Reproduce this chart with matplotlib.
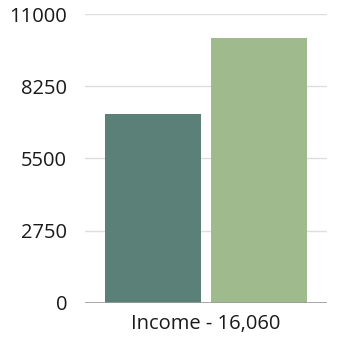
import matplotlib
matplotlib.use("Agg")
import matplotlib.pyplot as plt

plt.rcParams["font.family"] = ["Open Sans", "DejaVu Sans"]

categories = ["Income - 16,060"]
series_a = [7190]
series_b = [10070]
yticks = [0, 2750, 5500, 8250, 11000]

fig = plt.figure(figsize=(3.43, 3.43), dpi=100)
ax = fig.add_axes([0.248, 0.117, 0.705, 0.842])

x = [0]
w = 0.40
ax.bar([i - 0.219 for i in x], series_a, width=w, color="#5b8077", zorder=3)
ax.bar([i + 0.219 for i in x], series_b, width=w, color="#9fbb8e", zorder=3)

ax.set_xlim(-0.5, 0.5)
ax.set_ylim(0, 11000)
ax.set_yticks(yticks)
ax.set_yticklabels([str(t) for t in yticks])
ax.set_xticks(x)
ax.set_xticklabels(categories)

ax.grid(axis="y", color="#dedede", linewidth=1, zorder=0)
ax.axhline(0, color="#9a9a9a", linewidth=1.2, zorder=4)
for sp in ax.spines.values():
    sp.set_visible(False)
ax.tick_params(axis="both", length=0, labelsize=14.5, colors="#1a1a1a")
ax.tick_params(axis="y", pad=13)
ax.tick_params(axis="x", pad=8)

fig.savefig("out.png", dpi=100)
